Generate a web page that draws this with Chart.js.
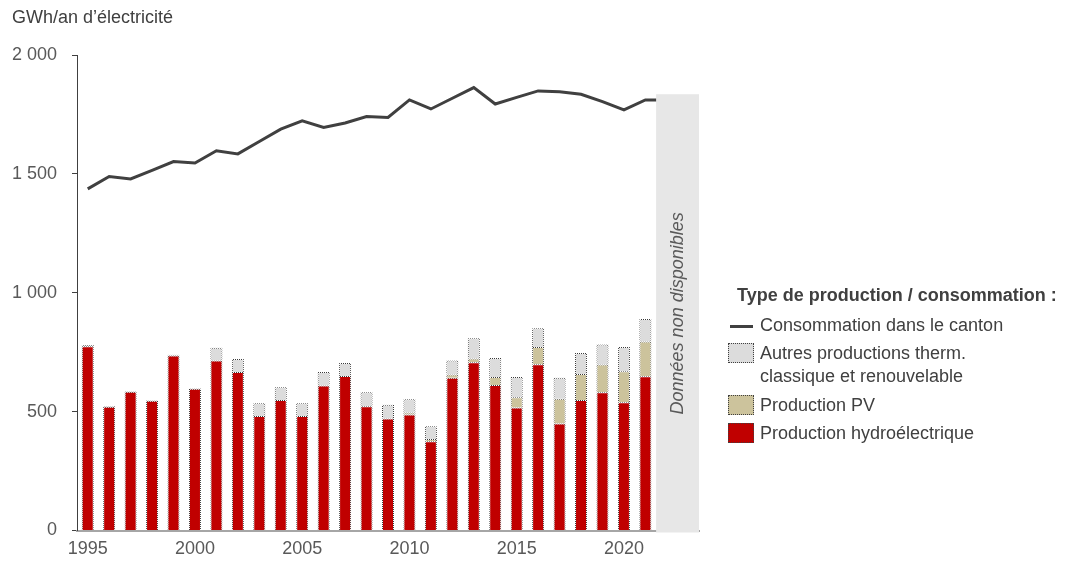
<!DOCTYPE html>
<html>
<head>
<meta charset="utf-8">
<script src="https://cdn.jsdelivr.net/npm/chart.js@4/dist/chart.umd.min.js"></script>
<style>
  body { margin: 0; background: #fff; font-family: "Liberation Sans", Arial, sans-serif; }
  #wrap { position: relative; width: 1078px; height: 561px; }
  #legend { position: absolute; left: 0; top: 0; color: #404040; font-size: 18px; }
  #legend div { position: absolute; white-space: nowrap; }
  .lg-title { left: 737px; top: 284px; font-weight: bold; line-height: 22px; }
  .lg-text { left: 760px; line-height: 23px; }
  .lg-box { left: 728px; width: 26px; height: 20px; border: 1px dotted #404040; box-sizing: border-box; }
  .lg-line { left: 730px; width: 23px; height: 3px; background: #404040; }
</style>
</head>
<body>
<div id="wrap">
  <canvas id="myChart" width="1078" height="561"></canvas>
  <div id="legend">
    <div class="lg-title">Type de production / consommation :</div>
    <div class="lg-line" style="top:325px"></div>
    <div class="lg-text" style="top:314px">Consommation dans le canton</div>
    <div class="lg-box" style="top:343px;background:#dcdcdc"></div>
    <div class="lg-text" style="top:342px">Autres productions therm.<br>classique et renouvelable</div>
    <div class="lg-box" style="top:395px;background:#ccc39c"></div>
    <div class="lg-text" style="top:394px">Production PV</div>
    <div class="lg-box" style="top:423px;background:#c00000"></div>
    <div class="lg-text" style="top:422px">Production hydroélectrique</div>
  </div>
</div>
<script>
  // Data (GWh/an)
  const years = ['1995', '1996', '1997', '1998', '1999', '2000', '2001', '2002', '2003', '2004',
    '2005', '2006', '2007', '2008', '2009', '2010', '2011', '2012', '2013', '2014',
    '2015', '2016', '2017', '2018', '2019', '2020', '2021', '2022', '2023'];
  const hydro = [775, 521, 584, 546, 736, 596, 715, 667, 482, 549,
    482, 610, 650, 523, 471, 488, 375, 642, 708, 612,
    517, 699, 450, 549, 582, 539, 649, null, null];
  const pv = [0, 0, 0, 0, 0, 0, 0, 0, 0, 0,
    0, 0, 0, 0, 0, 8, 10, 14, 15, 34,
    43, 73, 104, 109, 116, 131, 146, null, null];
  const others = [5, 3, 2, 2, 3, 2, 54, 54, 53, 54,
    53, 57, 55, 58, 58, 56, 53, 59, 86, 80,
    86, 79, 88, 89, 84, 102, 95, null, null];
  const consumption = [1437, 1489, 1479, 1515, 1552, 1546, 1597, 1584, 1636, 1688,
    1723, 1695, 1714, 1741, 1737, 1811, 1773, 1818, 1863, 1794,
    1822, 1849, 1845, 1835, 1804, 1769, 1811, 1811, null];
  const naYears = ['2022', '2023'];
  const naTop = 1835;

  Chart.defaults.font.family = "'Liberation Sans', Arial, sans-serif";
  Chart.defaults.color = '#595959';

  // dotted outline for the bars
  const pc = document.createElement('canvas');
  pc.width = 2; pc.height = 2;
  const pctx = pc.getContext('2d');
  pctx.fillStyle = '#3a3a3a';
  pctx.fillRect(0, 0, 1, 1);
  pctx.fillRect(1, 1, 1, 1);
  const dotted = pctx.createPattern(pc, 'repeat');

  // grey "no data" band
  const naBand = {
    id: 'naBand',
    afterDatasetsDraw(chart) {
      const { ctx, scales: { x, y } } = chart;
      const step = x.getPixelForValue(1) - x.getPixelForValue(0);
      const left = x.getPixelForValue(years.indexOf(naYears[0])) - step / 2;
      const right = x.getPixelForValue(years.indexOf(naYears[naYears.length - 1])) + step / 2;
      const top = y.getPixelForValue(naTop);
      const bottom = y.getPixelForValue(0) + 2;
      ctx.save();
      ctx.fillStyle = '#e7e7e7';
      ctx.fillRect(left, top, right - left, bottom - top);
      ctx.translate((left + right) / 2, (top + bottom) / 2);
      ctx.rotate(-Math.PI / 2);
      ctx.font = "italic 18px 'Liberation Sans', Arial, sans-serif";
      ctx.fillStyle = '#595959';
      ctx.textAlign = 'center';
      ctx.textBaseline = 'middle';
      ctx.fillText('Données non disponibles', 0, 0);
      ctx.restore();
    }
  };

  const barStyle = {
    type: 'bar',
    borderColor: dotted,
    borderWidth: 1,
    barPercentage: 0.56,
    categoryPercentage: 1,
    order: 1
  };

  const config = {
    data: {
      labels: years,
      datasets: [
        {
          type: 'line',
          label: 'Consommation dans le canton',
          data: consumption,
          borderColor: '#404040',
          borderWidth: 3,
          pointRadius: 0,
          tension: 0,
          order: 0
        },
        { ...barStyle, label: 'Production hydroélectrique', data: hydro, backgroundColor: '#c00000' },
        { ...barStyle, label: 'Production PV', data: pv, backgroundColor: '#ccc39c' },
        { ...barStyle, label: 'Autres productions therm. classique et renouvelable', data: others, backgroundColor: '#dcdcdc' }
      ]
    },
    options: {
      responsive: false,
      animation: false,
      layout: { padding: { left: 12, right: 379, top: 0, bottom: 0 } },
      plugins: {
        legend: { display: false },
        tooltip: { enabled: false },
        title: {
          display: true,
          text: 'GWh/an d\u2019électricité',
          align: 'start',
          color: '#404040',
          font: { size: 18, weight: 'normal' },
          padding: { top: 7, bottom: 26.4 }
        }
      },
      scales: {
        x: {
          stacked: true,
          grid: { display: false, drawTicks: false },
          border: { display: true, color: '#a6a6a6', width: 2 },
          afterFit: scale => { scale.height = 30.5; },
          ticks: {
            autoSkip: false,
            maxRotation: 0,
            padding: 8,
            font: { size: 18 },
            callback: (v, i) => (+years[i] % 5 === 0 ? years[i] : '')
          }
        },
        y: {
          stacked: true,
          min: 0,
          max: 2000,
          grid: { drawOnChartArea: false, tickLength: 5, color: '#404040' },
          border: { display: true, color: '#404040', width: 1 },
          afterFit: scale => { scale.width = 65; },
          ticks: {
            stepSize: 500,
            padding: 15,
            font: { size: 18 },
            callback: v => (v >= 1000 ? Math.floor(v / 1000) + ' ' + String(v % 1000).padStart(3, '0') : String(v))
          }
        }
      }
    },
    plugins: [naBand]
  };

  const myChart = new Chart(document.getElementById('myChart'), config);
</script>
</body>
</html>
